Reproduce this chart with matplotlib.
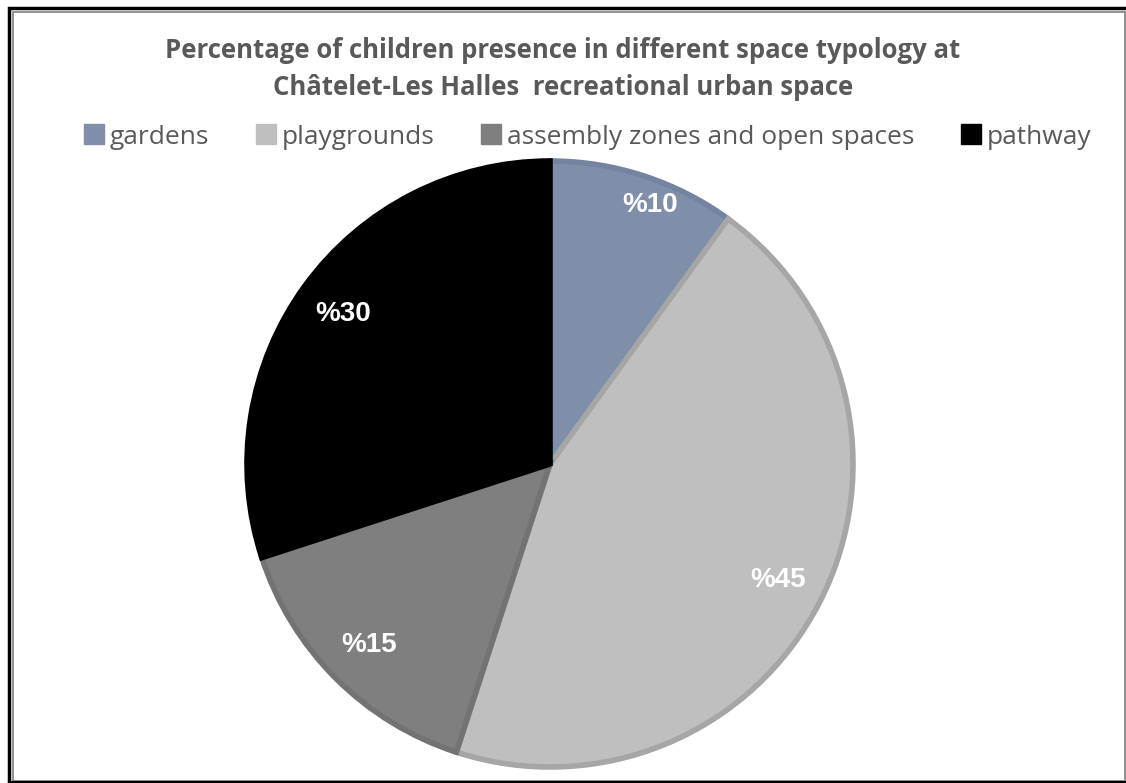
import matplotlib.pyplot as plt
from matplotlib.patches import Rectangle
from matplotlib.lines import Line2D

# Data
categories = ['gardens', 'playgrounds', 'assembly zones and open spaces', 'pathway']
shares = [10, 45, 15, 30]
fill_colors = ['#7F8FA9', '#BFBFBF', '#7F7F7F', '#000000']
edge_colors = ['#7383A0', '#A6A6A6', '#737373', '#000000']

W, H = 1126, 783
fig = plt.figure(figsize=(W / 100, H / 100), dpi=100)

# Pie axes: centre (550, 464) px, radius ~303 px
cx, cy, r = 550, 464, 303
pad = 1.03
ax = fig.add_axes([(cx - r * pad) / W, 1 - (cy + r * pad) / H,
                   2 * r * pad / W, 2 * r * pad / H])

wedges, texts, autotexts = ax.pie(
    shares, colors=fill_colors, startangle=90, counterclock=False,
    autopct=lambda p: f'%{p:.0f}', pctdistance=0.845,
    wedgeprops=dict(linewidth=4),
    textprops=dict(color='white', fontsize=20, fontweight='bold',
                   family='Liberation Sans'))
for w, ec in zip(wedges, edge_colors):
    w.set_edgecolor(ec)
autotexts[0].set_position((0.33, 0.855))
ax.set_xlim(-pad, pad)
ax.set_ylim(-pad, pad)
ax.set_aspect('equal')
ax.axis('off')

# Title
fig.text(0.5, 1 - 69 / H, 'Percentage of children presence in different space typology at\n'
         'Châtelet-Les Halles  recreational urban space',
         ha='center', va='center', fontsize=18.5, fontweight='bold',
         color='#595959', family='Open Sans', linespacing=1.5)

# Legend
handles = [Line2D([], [], marker='s', linestyle='none', markersize=14,
                  markerfacecolor=c, markeredgecolor=c) for c in fill_colors]
fig.legend(handles, categories, loc='center', bbox_to_anchor=(0.521, 1 - 137 / H),
           ncol=4, frameon=False, handletextpad=0.15,
           columnspacing=1.7, handlelength=0.9, labelcolor='#595959',
           prop=dict(family='Open Sans', size=19))

# Double frame
fig.add_artist(Rectangle((8.5 / W, -0.05), 1.2, 1 - 8 / H + 0.05,
                         transform=fig.transFigure, fill=False,
                         edgecolor='black', linewidth=2.5))
fig.add_artist(Rectangle((12.5 / W, 1 - 780.5 / H), (1124.5 - 12.5) / W,
                         (780.5 - 11.5) / H, transform=fig.transFigure,
                         fill=False, edgecolor='#7F7F7F', linewidth=1.2))
fig.add_artist(Line2D([8.5 / W, 1], [1 - 782 / H, 1 - 782 / H],
                      transform=fig.transFigure, color='black', linewidth=1.5))

fig.savefig('out.png', dpi=100)
